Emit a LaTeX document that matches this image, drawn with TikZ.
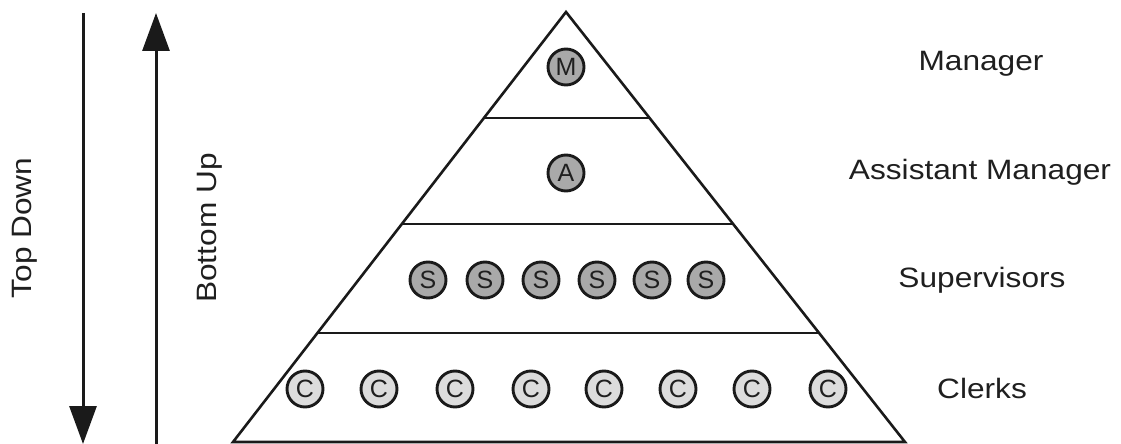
\documentclass[tikz,border=0pt]{standalone}
\usepackage{fontspec}
\setmainfont{Liberation Sans}
\usetikzlibrary{arrows.meta,calc}
\definecolor{ink}{HTML}{1A1A1A}
\definecolor{txt}{HTML}{1F1F1F}
\definecolor{darkfill}{HTML}{A9A9A9}
\definecolor{lightfill}{HTML}{DCDCDC}
\tikzset{
  lvl/.style={line width=2.6pt, draw=ink},
  person/.style={circle, draw=ink, line width=2.9pt, minimum size=36pt, inner sep=0pt,
     font=\fontsize{25}{25}\selectfont, text=txt},
  boss/.style={person, fill=darkfill},
  clerk/.style={person, fill=lightfill},
  lab/.style={font=\fontsize{28}{30}\selectfont, text=txt, inner sep=0pt},
  dirarrow/.style={line width=3pt, draw=ink, -{Triangle[width=27pt,length=38pt]}}
}
\newcommand{\wide}[1]{\scalebox{1.13}[1]{#1}}
\begin{document}
\begin{tikzpicture}[x=1pt,y=-1pt]
\useasboundingbox (0,0) rectangle (1121,444);
% pyramid corners
\coordinate (apex) at (566,12);
\coordinate (bl) at (233,442);
\coordinate (br) at (905,442);
\draw[lvl, line join=miter] (apex) -- (bl) -- (br) -- cycle;
% level lines
\foreach \t/\n in {0.2465/1,0.4930/2,0.7465/3}{
  \coordinate (la\n) at ($(apex)!\t!(bl)$);
  \coordinate (lb\n) at ($(apex)!\t!(br)$);
  \draw[lvl] (la\n) -- (lb\n);
}
% people
\node[boss] (m) at (566,67) {M};
\node[boss] (a) at (566,173) {A};
\foreach \x [count=\i] in {428,485,541,597,652,706}{
  \node[boss] (s\i) at (\x,280) {S};
}
\foreach \x [count=\i] in {305,379,455,531,604,678,752,828}{
  \node[clerk] (c\i) at (\x,389) {C};
}
% labels
\node[lab] (lm) at (981,64) {\wide{Manager}};
\node[lab] (la) at (980,172) {\wide{Assistant Manager}};
\node[lab] (ls) at (982,280) {\wide{Supervisors}};
\node[lab] (lc) at (982,388) {\wide{Clerks}};
% arrows
\coordinate (tdtop) at (83,13);
\coordinate (tdbot) at (83,444);
\coordinate (butop) at (156,13);
\coordinate (bubot) at (156,444);
\draw[dirarrow] (tdtop) -- (tdbot);
\draw[dirarrow] (bubot) -- (butop);
\node[lab, rotate=90] (td) at (25,228) {\wide{Top Down}};
\node[lab, rotate=90] (bu) at (210,228) {\wide{Bottom Up}};
\end{tikzpicture}
\end{document}
